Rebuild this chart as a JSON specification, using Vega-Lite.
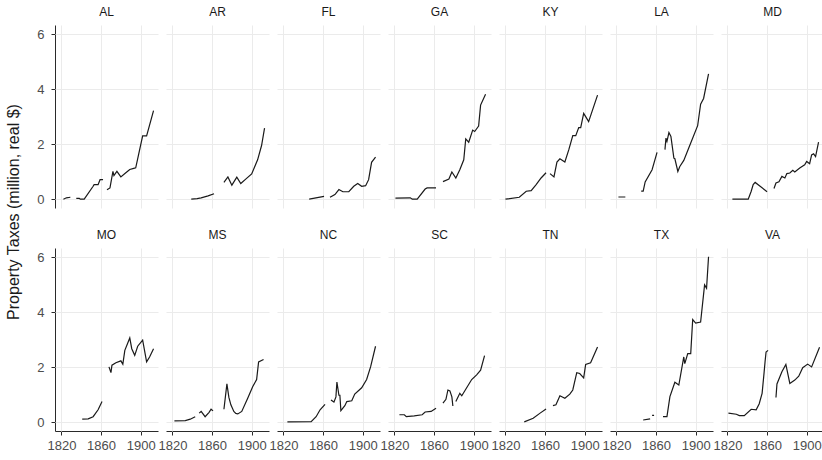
{
  "$schema": "https://vega.github.io/schema/vega-lite/v6.json",
  "padding": {"left": 5, "top": 6, "right": 0, "bottom": 4},
  "title": {"text": "Property Taxes (million, real $)", "orient": "left", "anchor": "middle", "fontSize": 16, "fontWeight": "normal", "font": "Liberation Sans", "color": "#1a1a1a", "offset": 15, "dx": 17},
  "datasets": {
    "tax": [
      {"s":"AL","y":1822,"v":0.0},{"s":"AL","y":1825,"v":0.05},{"s":"AL","y":1829,"v":0.07},{"s":"AL","y":1832,"v":null},{"s":"AL","y":1835,"v":0.03},{"s":"AL","y":1838,"v":0.03},{"s":"AL","y":1839,"v":0.0},{"s":"AL","y":1843,"v":0.0},{"s":"AL","y":1852,"v":0.47},{"s":"AL","y":1853,"v":0.53},{"s":"AL","y":1857,"v":0.53},{"s":"AL","y":1859,"v":0.71},{"s":"AL","y":1862,"v":0.71},{"s":"AL","y":1864,"v":null},{"s":"AL","y":1866,"v":0.34},{"s":"AL","y":1869,"v":0.41},{"s":"AL","y":1872,"v":1.01},{"s":"AL","y":1873,"v":0.86},{"s":"AL","y":1876,"v":1.01},{"s":"AL","y":1880,"v":0.81},{"s":"AL","y":1885,"v":0.96},{"s":"AL","y":1889,"v":1.08},{"s":"AL","y":1893,"v":1.12},{"s":"AL","y":1895,"v":1.14},{"s":"AL","y":1898,"v":1.64},{"s":"AL","y":1902,"v":2.3},{"s":"AL","y":1906,"v":2.3},{"s":"AL","y":1913,"v":3.22},
      {"s":"AR","y":1839,"v":0.0},{"s":"AR","y":1845,"v":0.02},{"s":"AR","y":1849,"v":0.05},{"s":"AR","y":1856,"v":0.12},{"s":"AR","y":1862,"v":0.2},{"s":"AR","y":1866,"v":null},{"s":"AR","y":1872,"v":0.61},{"s":"AR","y":1876,"v":0.81},{"s":"AR","y":1880,"v":0.51},{"s":"AR","y":1885,"v":0.8},{"s":"AR","y":1889,"v":0.57},{"s":"AR","y":1894,"v":0.73},{"s":"AR","y":1900,"v":0.92},{"s":"AR","y":1906,"v":1.43},{"s":"AR","y":1910,"v":1.95},{"s":"AR","y":1913,"v":2.58},
      {"s":"FL","y":1846,"v":0.0},{"s":"FL","y":1861,"v":0.1},{"s":"FL","y":1864,"v":null},{"s":"FL","y":1867,"v":0.07},{"s":"FL","y":1872,"v":0.17},{"s":"FL","y":1876,"v":0.35},{"s":"FL","y":1880,"v":0.27},{"s":"FL","y":1886,"v":0.27},{"s":"FL","y":1891,"v":0.47},{"s":"FL","y":1895,"v":0.57},{"s":"FL","y":1899,"v":0.47},{"s":"FL","y":1903,"v":0.49},{"s":"FL","y":1906,"v":0.71},{"s":"FL","y":1909,"v":1.34},{"s":"FL","y":1913,"v":1.53},
      {"s":"GA","y":1821,"v":0.04},{"s":"GA","y":1836,"v":0.05},{"s":"GA","y":1838,"v":0.0},{"s":"GA","y":1843,"v":0.0},{"s":"GA","y":1851,"v":0.37},{"s":"GA","y":1853,"v":0.41},{"s":"GA","y":1862,"v":0.41},{"s":"GA","y":1866,"v":null},{"s":"GA","y":1869,"v":0.64},{"s":"GA","y":1875,"v":0.73},{"s":"GA","y":1878,"v":0.99},{"s":"GA","y":1882,"v":0.77},{"s":"GA","y":1886,"v":1.07},{"s":"GA","y":1890,"v":1.43},{"s":"GA","y":1892,"v":2.19},{"s":"GA","y":1895,"v":2.07},{"s":"GA","y":1899,"v":2.51},{"s":"GA","y":1901,"v":2.46},{"s":"GA","y":1905,"v":2.66},{"s":"GA","y":1907,"v":3.42},{"s":"GA","y":1912,"v":3.81},
      {"s":"KY","y":1820,"v":0.0},{"s":"KY","y":1834,"v":0.07},{"s":"KY","y":1841,"v":0.29},{"s":"KY","y":1846,"v":0.31},{"s":"KY","y":1851,"v":0.53},{"s":"KY","y":1856,"v":0.77},{"s":"KY","y":1861,"v":0.96},{"s":"KY","y":1863,"v":null},{"s":"KY","y":1865,"v":0.93},{"s":"KY","y":1869,"v":0.81},{"s":"KY","y":1872,"v":1.35},{"s":"KY","y":1875,"v":1.47},{"s":"KY","y":1880,"v":1.35},{"s":"KY","y":1884,"v":1.8},{"s":"KY","y":1888,"v":2.31},{"s":"KY","y":1891,"v":2.31},{"s":"KY","y":1894,"v":2.6},{"s":"KY","y":1896,"v":2.6},{"s":"KY","y":1899,"v":3.12},{"s":"KY","y":1901,"v":3.0},{"s":"KY","y":1904,"v":2.82},{"s":"KY","y":1913,"v":3.78},
      {"s":"LA","y":1822,"v":0.08},{"s":"LA","y":1829,"v":0.08},{"s":"LA","y":1835,"v":null},{"s":"LA","y":1845,"v":0.29},{"s":"LA","y":1847,"v":0.29},{"s":"LA","y":1849,"v":0.63},{"s":"LA","y":1856,"v":1.07},{"s":"LA","y":1861,"v":1.7},{"s":"LA","y":1865,"v":null},{"s":"LA","y":1869,"v":1.8},{"s":"LA","y":1870,"v":2.22},{"s":"LA","y":1871,"v":2.1},{"s":"LA","y":1873,"v":2.42},{"s":"LA","y":1875,"v":2.28},{"s":"LA","y":1878,"v":1.49},{"s":"LA","y":1879,"v":1.47},{"s":"LA","y":1882,"v":1.01},{"s":"LA","y":1884,"v":1.19},{"s":"LA","y":1888,"v":1.41},{"s":"LA","y":1893,"v":1.86},{"s":"LA","y":1902,"v":2.67},{"s":"LA","y":1905,"v":3.45},{"s":"LA","y":1908,"v":3.66},{"s":"LA","y":1913,"v":4.55},
      {"s":"MD","y":1825,"v":0.0},{"s":"MD","y":1841,"v":0.0},{"s":"MD","y":1844,"v":0.29},{"s":"MD","y":1846,"v":0.53},{"s":"MD","y":1848,"v":0.61},{"s":"MD","y":1853,"v":0.47},{"s":"MD","y":1860,"v":0.27},{"s":"MD","y":1864,"v":null},{"s":"MD","y":1867,"v":0.39},{"s":"MD","y":1869,"v":0.59},{"s":"MD","y":1872,"v":0.63},{"s":"MD","y":1875,"v":0.83},{"s":"MD","y":1878,"v":0.77},{"s":"MD","y":1880,"v":0.93},{"s":"MD","y":1883,"v":0.95},{"s":"MD","y":1886,"v":1.05},{"s":"MD","y":1888,"v":0.99},{"s":"MD","y":1893,"v":1.13},{"s":"MD","y":1898,"v":1.25},{"s":"MD","y":1900,"v":1.37},{"s":"MD","y":1903,"v":1.29},{"s":"MD","y":1905,"v":1.61},{"s":"MD","y":1907,"v":1.65},{"s":"MD","y":1909,"v":1.55},{"s":"MD","y":1912,"v":2.07},
      {"s":"MO","y":1841,"v":0.11},{"s":"MO","y":1847,"v":0.12},{"s":"MO","y":1852,"v":0.2},{"s":"MO","y":1857,"v":0.45},{"s":"MO","y":1861,"v":0.75},{"s":"MO","y":1864,"v":null},{"s":"MO","y":1868,"v":2.01},{"s":"MO","y":1870,"v":1.8},{"s":"MO","y":1871,"v":2.07},{"s":"MO","y":1875,"v":2.16},{"s":"MO","y":1880,"v":2.23},{"s":"MO","y":1882,"v":2.11},{"s":"MO","y":1884,"v":2.61},{"s":"MO","y":1889,"v":3.06},{"s":"MO","y":1891,"v":2.67},{"s":"MO","y":1894,"v":2.43},{"s":"MO","y":1897,"v":2.76},{"s":"MO","y":1902,"v":2.98},{"s":"MO","y":1906,"v":2.19},{"s":"MO","y":1909,"v":2.37},{"s":"MO","y":1913,"v":2.67},
      {"s":"MS","y":1822,"v":0.05},{"s":"MS","y":1833,"v":0.06},{"s":"MS","y":1838,"v":0.11},{"s":"MS","y":1843,"v":0.2},{"s":"MS","y":1845,"v":null},{"s":"MS","y":1847,"v":0.33},{"s":"MS","y":1849,"v":0.39},{"s":"MS","y":1853,"v":0.2},{"s":"MS","y":1857,"v":0.36},{"s":"MS","y":1859,"v":0.47},{"s":"MS","y":1861,"v":0.41},{"s":"MS","y":1866,"v":null},{"s":"MS","y":1872,"v":0.47},{"s":"MS","y":1875,"v":1.39},{"s":"MS","y":1877,"v":0.9},{"s":"MS","y":1879,"v":0.63},{"s":"MS","y":1882,"v":0.39},{"s":"MS","y":1884,"v":0.32},{"s":"MS","y":1886,"v":0.3},{"s":"MS","y":1890,"v":0.39},{"s":"MS","y":1896,"v":0.87},{"s":"MS","y":1901,"v":1.29},{"s":"MS","y":1905,"v":1.55},{"s":"MS","y":1907,"v":2.19},{"s":"MS","y":1912,"v":2.28},
      {"s":"NC","y":1824,"v":0.01},{"s":"NC","y":1848,"v":0.02},{"s":"NC","y":1853,"v":0.2},{"s":"NC","y":1857,"v":0.45},{"s":"NC","y":1862,"v":0.65},{"s":"NC","y":1865,"v":null},{"s":"NC","y":1868,"v":0.81},{"s":"NC","y":1871,"v":0.73},{"s":"NC","y":1873,"v":0.92},{"s":"NC","y":1874,"v":1.46},{"s":"NC","y":1876,"v":0.98},{"s":"NC","y":1877,"v":0.98},{"s":"NC","y":1878,"v":0.42},{"s":"NC","y":1882,"v":0.6},{"s":"NC","y":1884,"v":0.75},{"s":"NC","y":1889,"v":0.78},{"s":"NC","y":1892,"v":1.02},{"s":"NC","y":1899,"v":1.25},{"s":"NC","y":1904,"v":1.55},{"s":"NC","y":1908,"v":2.01},{"s":"NC","y":1913,"v":2.76},
      {"s":"SC","y":1825,"v":0.27},{"s":"SC","y":1830,"v":0.27},{"s":"SC","y":1832,"v":0.2},{"s":"SC","y":1840,"v":0.23},{"s":"SC","y":1848,"v":0.27},{"s":"SC","y":1851,"v":0.37},{"s":"SC","y":1857,"v":0.39},{"s":"SC","y":1862,"v":0.51},{"s":"SC","y":1865,"v":null},{"s":"SC","y":1869,"v":0.69},{"s":"SC","y":1872,"v":0.83},{"s":"SC","y":1874,"v":1.17},{"s":"SC","y":1876,"v":1.14},{"s":"SC","y":1878,"v":0.92},{"s":"SC","y":1879,"v":0.59},{"s":"SC","y":1880,"v":null},{"s":"SC","y":1882,"v":0.75},{"s":"SC","y":1886,"v":1.05},{"s":"SC","y":1888,"v":0.96},{"s":"SC","y":1898,"v":1.55},{"s":"SC","y":1903,"v":1.72},{"s":"SC","y":1907,"v":1.89},{"s":"SC","y":1911,"v":2.42},
      {"s":"TN","y":1839,"v":0.01},{"s":"TN","y":1848,"v":0.14},{"s":"TN","y":1855,"v":0.33},{"s":"TN","y":1861,"v":0.48},{"s":"TN","y":1864,"v":null},{"s":"TN","y":1868,"v":0.6},{"s":"TN","y":1871,"v":0.63},{"s":"TN","y":1875,"v":0.96},{"s":"TN","y":1880,"v":0.87},{"s":"TN","y":1885,"v":1.02},{"s":"TN","y":1888,"v":1.17},{"s":"TN","y":1892,"v":1.8},{"s":"TN","y":1895,"v":1.77},{"s":"TN","y":1899,"v":1.61},{"s":"TN","y":1901,"v":2.1},{"s":"TN","y":1906,"v":2.16},{"s":"TN","y":1913,"v":2.73},
      {"s":"TX","y":1847,"v":0.08},{"s":"TX","y":1854,"v":0.12},{"s":"TX","y":1855,"v":null},{"s":"TX","y":1856,"v":0.25},{"s":"TX","y":1858,"v":0.25},{"s":"TX","y":1862,"v":null},{"s":"TX","y":1867,"v":0.2},{"s":"TX","y":1871,"v":0.2},{"s":"TX","y":1874,"v":0.93},{"s":"TX","y":1879,"v":1.45},{"s":"TX","y":1883,"v":1.35},{"s":"TX","y":1888,"v":2.37},{"s":"TX","y":1889,"v":2.13},{"s":"TX","y":1892,"v":2.49},{"s":"TX","y":1895,"v":2.49},{"s":"TX","y":1897,"v":3.73},{"s":"TX","y":1900,"v":3.6},{"s":"TX","y":1905,"v":3.64},{"s":"TX","y":1909,"v":4.99},{"s":"TX","y":1911,"v":4.87},{"s":"TX","y":1913,"v":6.01},
      {"s":"VA","y":1821,"v":0.33},{"s":"VA","y":1829,"v":0.29},{"s":"VA","y":1832,"v":0.24},{"s":"VA","y":1837,"v":0.24},{"s":"VA","y":1844,"v":0.47},{"s":"VA","y":1849,"v":0.45},{"s":"VA","y":1852,"v":0.66},{"s":"VA","y":1855,"v":1.05},{"s":"VA","y":1857,"v":1.8},{"s":"VA","y":1858,"v":2.2},{"s":"VA","y":1859,"v":2.55},{"s":"VA","y":1861,"v":2.61},{"s":"VA","y":1865,"v":null},{"s":"VA","y":1869,"v":0.9},{"s":"VA","y":1870,"v":1.39},{"s":"VA","y":1875,"v":1.83},{"s":"VA","y":1879,"v":2.1},{"s":"VA","y":1883,"v":1.41},{"s":"VA","y":1888,"v":1.53},{"s":"VA","y":1892,"v":1.67},{"s":"VA","y":1896,"v":1.98},{"s":"VA","y":1901,"v":2.11},{"s":"VA","y":1905,"v":2.01},{"s":"VA","y":1913,"v":2.72}
    ]
  },
  "data": {"name": "tax"},
  "facet": {"field": "s", "type": "nominal", "header": {"title": null}},
  "columns": 7,
  "spacing": {"column": 8, "row": 21},
  "spec": {
    "width": 103,
    "height": 183,
    "mark": {"type": "line", "color": "#1a1a1a", "strokeWidth": 1.2},
    "encoding": {
      "x": {"field": "y", "type": "quantitative", "scale": {"domain": [1813.5, 1917.5], "nice": false, "zero": false},
            "axis": {"values": [1820, 1860, 1900], "format": "d", "title": null, "labelPadding": 4}},
      "y": {"field": "v", "type": "quantitative", "scale": {"domain": [-0.32, 6.33], "nice": false, "zero": false},
            "axis": {"values": [0, 2, 4, 6], "title": null, "labelPadding": 7}}
    }
  },
  "config": {
    "view": {"stroke": null},
    "font": "Liberation Sans",
    "header": {"labelFontSize": 12, "labelColor": "#1a1a1a", "labelFont": "Liberation Sans", "labelPadding": 6},
    "axis": {"gridColor": "#ebebeb", "gridWidth": 1, "domainColor": "#2a2a2a", "tickColor": "#2a2a2a", "tickSize": 4, "labelColor": "#4d4d4d", "labelFont": "Liberation Sans", "labelFontSize": 13, "domainWidth": 1}
  }
}
